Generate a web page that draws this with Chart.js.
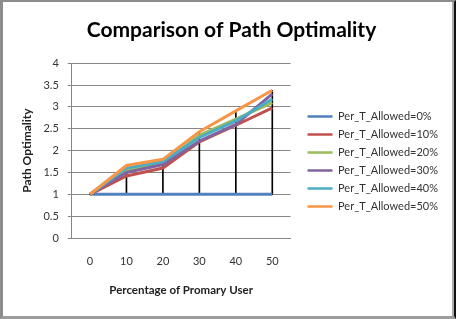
<!DOCTYPE html>
<html>
<head>
<meta charset="utf-8">
<script src="https://cdn.jsdelivr.net/npm/chart.js@4"></script>
<style>
  html, body { margin: 0; padding: 0; background: #fff; }
  #frame {
    width: 456px; height: 319px; box-sizing: border-box;
    border-left: 3px solid #8d8d8d; border-top: 2px solid #8d8d8d;
    border-bottom: 3px solid #9c9c9c; border-right: 2px solid #111;
    background: #fff;
  }
  #inner { width: 449px; height: 314px; border-right: 2px solid #ababab; box-sizing: content-box; }
  canvas { display: block; }
</style>
</head>
<body>
<div id="frame"><div id="inner"><canvas id="chart" width="449" height="314"></canvas></div></div>
<script>
// Path optimality per primary-user percentage, one series per allowed percentage

var categories = ['0', '10', '20', '30', '40', '50'];

var seriesNames = [
  'Per_T_Allowed=0%',
  'Per_T_Allowed=10%',
  'Per_T_Allowed=20%',
  'Per_T_Allowed=30%',
  'Per_T_Allowed=40%',
  'Per_T_Allowed=50%'
];

var allowed0  = [1, 1,    1,    1,    1,    1];
var allowed10 = [1, 1.42, 1.6,  2.2,  2.58, 2.98];
var allowed20 = [1, 1.55, 1.72, 2.35, 2.72, 3.1];
var allowed30 = [1, 1.5,  1.68, 2.22, 2.6,  3.3];
var allowed40 = [1, 1.6,  1.75, 2.3,  2.68, 3.18];
var allowed50 = [1, 1.66, 1.8,  2.43, 2.91, 3.38];

// Excel 2007 default palette
var seriesColors = ['#4f81bd', '#c0504d', '#9bbb59', '#8064a2', '#4bacc6', '#f79646'];

var allSeries = [allowed0, allowed10, allowed20, allowed30, allowed40, allowed50];

// High-low lines: from lowest to highest series value at each category
var highLow = categories.map(function(c, i) {
  var vals = allSeries.map(function(s) { return s[i]; });
  return [Math.min.apply(null, vals), Math.max.apply(null, vals)];
});

var FONT = 'Lato, "Open Sans", sans-serif';

var datasets = allSeries.map(function(s, i) {
  return {
    type: 'line',
    label: seriesNames[i],
    data: s,
    borderColor: seriesColors[i],
    backgroundColor: seriesColors[i],
    borderWidth: 3,
    pointRadius: 0,
    tension: 0,
    order: 5 - i          /* later series drawn on top, like Excel */
  };
});

datasets.push({
  type: 'bar',
  label: 'highlow',
  data: highLow,
  backgroundColor: '#000',
  barThickness: 1,
  order: 20
});

// Move legend away from the plot area and down to the frame's middle
var legendGap = {
  id: 'legendGap',
  beforeInit: function(chart) {
    var fitOrig = chart.legend.fit;
    chart.legend.fit = function() {
      fitOrig.call(this);
      this.width += 14;
    };
  },
  afterLayout: function(chart) {
    chart.legend.left += 10;
    chart.legend.top += 10;
    chart.legend.bottom += 10;
  }
};

new Chart(document.getElementById('chart'), {
  type: 'line',
  data: { labels: categories, datasets: datasets },
  plugins: [legendGap],
  options: {
    responsive: false,
    animation: false,
    layout: { padding: { left: 8, top: 0, right: 0, bottom: 15 } },
    plugins: {
      title: {
        display: true,
        text: 'Comparison of Path Optimality',
        color: '#000',
        font: { family: FONT, size: 21, weight: 'bold' },
        padding: { top: 16, bottom: 20 }
      },
      legend: {
        position: 'right',
        maxWidth: 220,
        labels: {
          color: '#333',
          font: { family: FONT, size: 11 },
          usePointStyle: true,
          pointStyle: 'line',
          pointStyleWidth: 25,
          padding: 7,
          filter: function(item) { return item.datasetIndex < 6; },
          sort: function(a, b) { return a.datasetIndex - b.datasetIndex; },
          generateLabels: function(chart) {
            var items = Chart.defaults.plugins.legend.labels.generateLabels(chart);
            items.forEach(function(it) { it.lineWidth = 2.5; });
            return items;
          }
        }
      },
      tooltip: { enabled: false }
    },
    scales: {
      x: {
        offset: true,
        grid: { display: false, drawTicks: false },
        border: { color: '#868686' },
        ticks: { color: '#333', font: { family: FONT, size: 11 }, padding: 17 },
        title: {
          display: true,
          text: 'Percentage of Promary User',
          color: '#222',
          font: { family: FONT, size: 11.5, weight: 'bold' },
          padding: { top: -2, bottom: 4 }
        }
      },
      y: {
        min: 0,
        max: 4,
        ticks: {
          stepSize: 0.5,
          color: '#333',
          font: { family: FONT, size: 11 },
          padding: 9,
          callback: function(v) { return String(v); }
        },
        grid: { color: '#868686', tickLength: 4 },
        border: { color: '#868686' },
        title: {
          display: true,
          text: 'Path Optimality',
          color: '#222',
          font: { family: FONT, size: 12, weight: 'bold' },
          padding: { top: 9, bottom: 0 }
        }
      }
    }
  }
});
</script>
</body>
</html>
